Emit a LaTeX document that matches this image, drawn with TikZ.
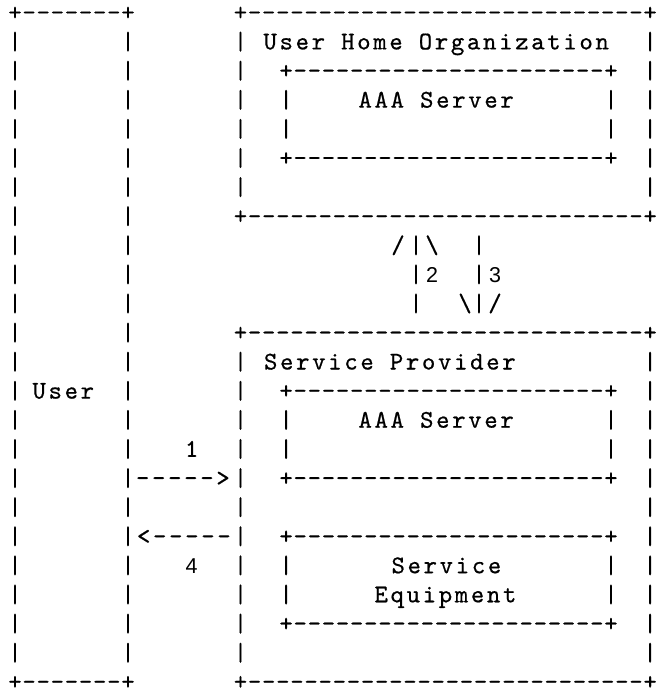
\documentclass[tikz,border=0pt]{standalone}
\usepackage{fontspec}
\newfontfamily\asciifont{lmmono10-regular.otf}[FakeBold=0.6]
\newfontfamily\asciiwide{lmmono10-regular.otf}[LetterSpace=10.5,FakeBold=0.6]
\newfontfamily\digitfont{Liberation Sans}
\newcommand\fsz{\fontsize{25.5bp}{29bp}\selectfont}
\tikzset{
  ch/.style={font=\asciifont\fsz, inner sep=0pt, outer sep=0pt, anchor=base},
  wd/.style={font=\asciiwide\fsz, inner sep=0pt, outer sep=0pt, anchor=base west},
  dg/.style={font=\digitfont\fontsize{21.5bp}{25bp}\selectfont, inner sep=0pt, outer sep=0pt, anchor=base},
}
\newcommand\rowy[1]{20.3+(#1-1)*29.1}
% #1 name, #2 x of first '+', #3 index of last '+', #4 row
\newcommand\asciirule[4]{%
  \pgfmathsetmacro\ry{\rowy{#4}}%
  \pgfmathtruncatemacro\prelast{#3-1}%
  \node[ch] (#1-0) at (#2,\ry) {+};
  \foreach \k in {1,...,\prelast} {\node[ch] (#1-\k) at ({#2+14.125*\k},\ry) {-};}
  \node[ch] (#1-#3) at ({#2+14.125*#3},\ry) {+};
}
% #1 name, #2 x, #3 first row, #4 last row
\newcommand\asciibars[4]{%
  \foreach \r in {#3,...,#4} {\node[ch] (#1-\r) at (#2,{\rowy{\r}}) {|};}
}
\begin{document}
\begin{tikzpicture}[x=1bp,y=-1bp]
\useasboundingbox (0,0) rectangle (656,695);
% User box
\asciirule{usertop}{15}{8}{1}
\asciirule{userbot}{15}{8}{24}
\asciibars{userL}{15}{2}{23}
\asciibars{userR}{128}{2}{23}
\node[wd] (user) at (32.5,{\rowy{14}}) {User};
% User Home Organization box
\asciirule{hometop}{240.5}{29}{1}
\asciirule{homebot}{240.5}{29}{8}
\asciibars{homeL}{240.5}{2}{7}
\asciibars{homeR}{650.1}{2}{7}
\node[wd] (home) at (263.5,{\rowy{2}}) {User Home Organization};
\asciirule{haaatop}{286.1}{23}{3}
\asciirule{haaabot}{286.1}{23}{6}
\asciibars{haaaL}{286.1}{4}{5}
\asciibars{haaaR}{610.98}{4}{5}
\node[wd] (haaa) at (358.5,{\rowy{4}}) {AAA Server};
% Service Provider box
\asciirule{sptop}{240.5}{29}{12}
\asciirule{spbot}{240.5}{29}{24}
\asciibars{spL}{240.5}{13}{23}
\asciibars{spR}{650.1}{13}{23}
\node[wd] (sp) at (264,{\rowy{13}}) {Service Provider};
\asciirule{saaatop}{286.1}{23}{14}
\asciirule{saaabot}{286.1}{23}{17}
\asciibars{saaaL}{286.1}{15}{16}
\asciibars{saaaR}{610.98}{15}{16}
\node[wd] (saaa) at (358.5,{\rowy{15}}) {AAA Server};
\asciirule{setop}{286.1}{23}{19}
\asciirule{sebot}{286.1}{23}{22}
\asciibars{seL}{286.1}{20}{21}
\asciibars{seR}{610.98}{20}{21}
\node[wd] (se1) at (391.5,{\rowy{20}}) {Service};
\node[wd] (se2) at (374.5,{\rowy{21}}) {Equipment};
% messages 1 and 4
\node[ch] (n1) at (191.7,{\rowy{16}}) {1};
\node[wd] (a1) at (136,{\rowy{17}}) {----->};
\node[wd] (a4) at (137,{\rowy{19}}) {<-----};
\node[dg] (n4) at (191.7,{\rowy{20}}) {4};
% messages 2 and 3
\node[ch] (u9a) at (398,{\rowy{9}}) {/};
\node[ch] (u9b) at (416,{\rowy{9}}) {|};
\node[ch] (u9c) at (432,{\rowy{9}}) {\textbackslash};
\node[ch] (d9)  at (479,{\rowy{9}}) {|};
\node[ch] (u10) at (416,{\rowy{10}}) {|};
\node[dg] (n2)  at (432,{\rowy{10}}) {2};
\node[ch] (d10) at (479,{\rowy{10}}) {|};
\node[dg] (n3)  at (495,{\rowy{10}}) {3};
\node[ch] (u11) at (416,{\rowy{11}}) {|};
\node[ch] (d11a) at (465,{\rowy{11}}) {\textbackslash};
\node[ch] (d11b) at (479,{\rowy{11}}) {|};
\node[ch] (d11c) at (495,{\rowy{11}}) {/};
\end{tikzpicture}
\end{document}
